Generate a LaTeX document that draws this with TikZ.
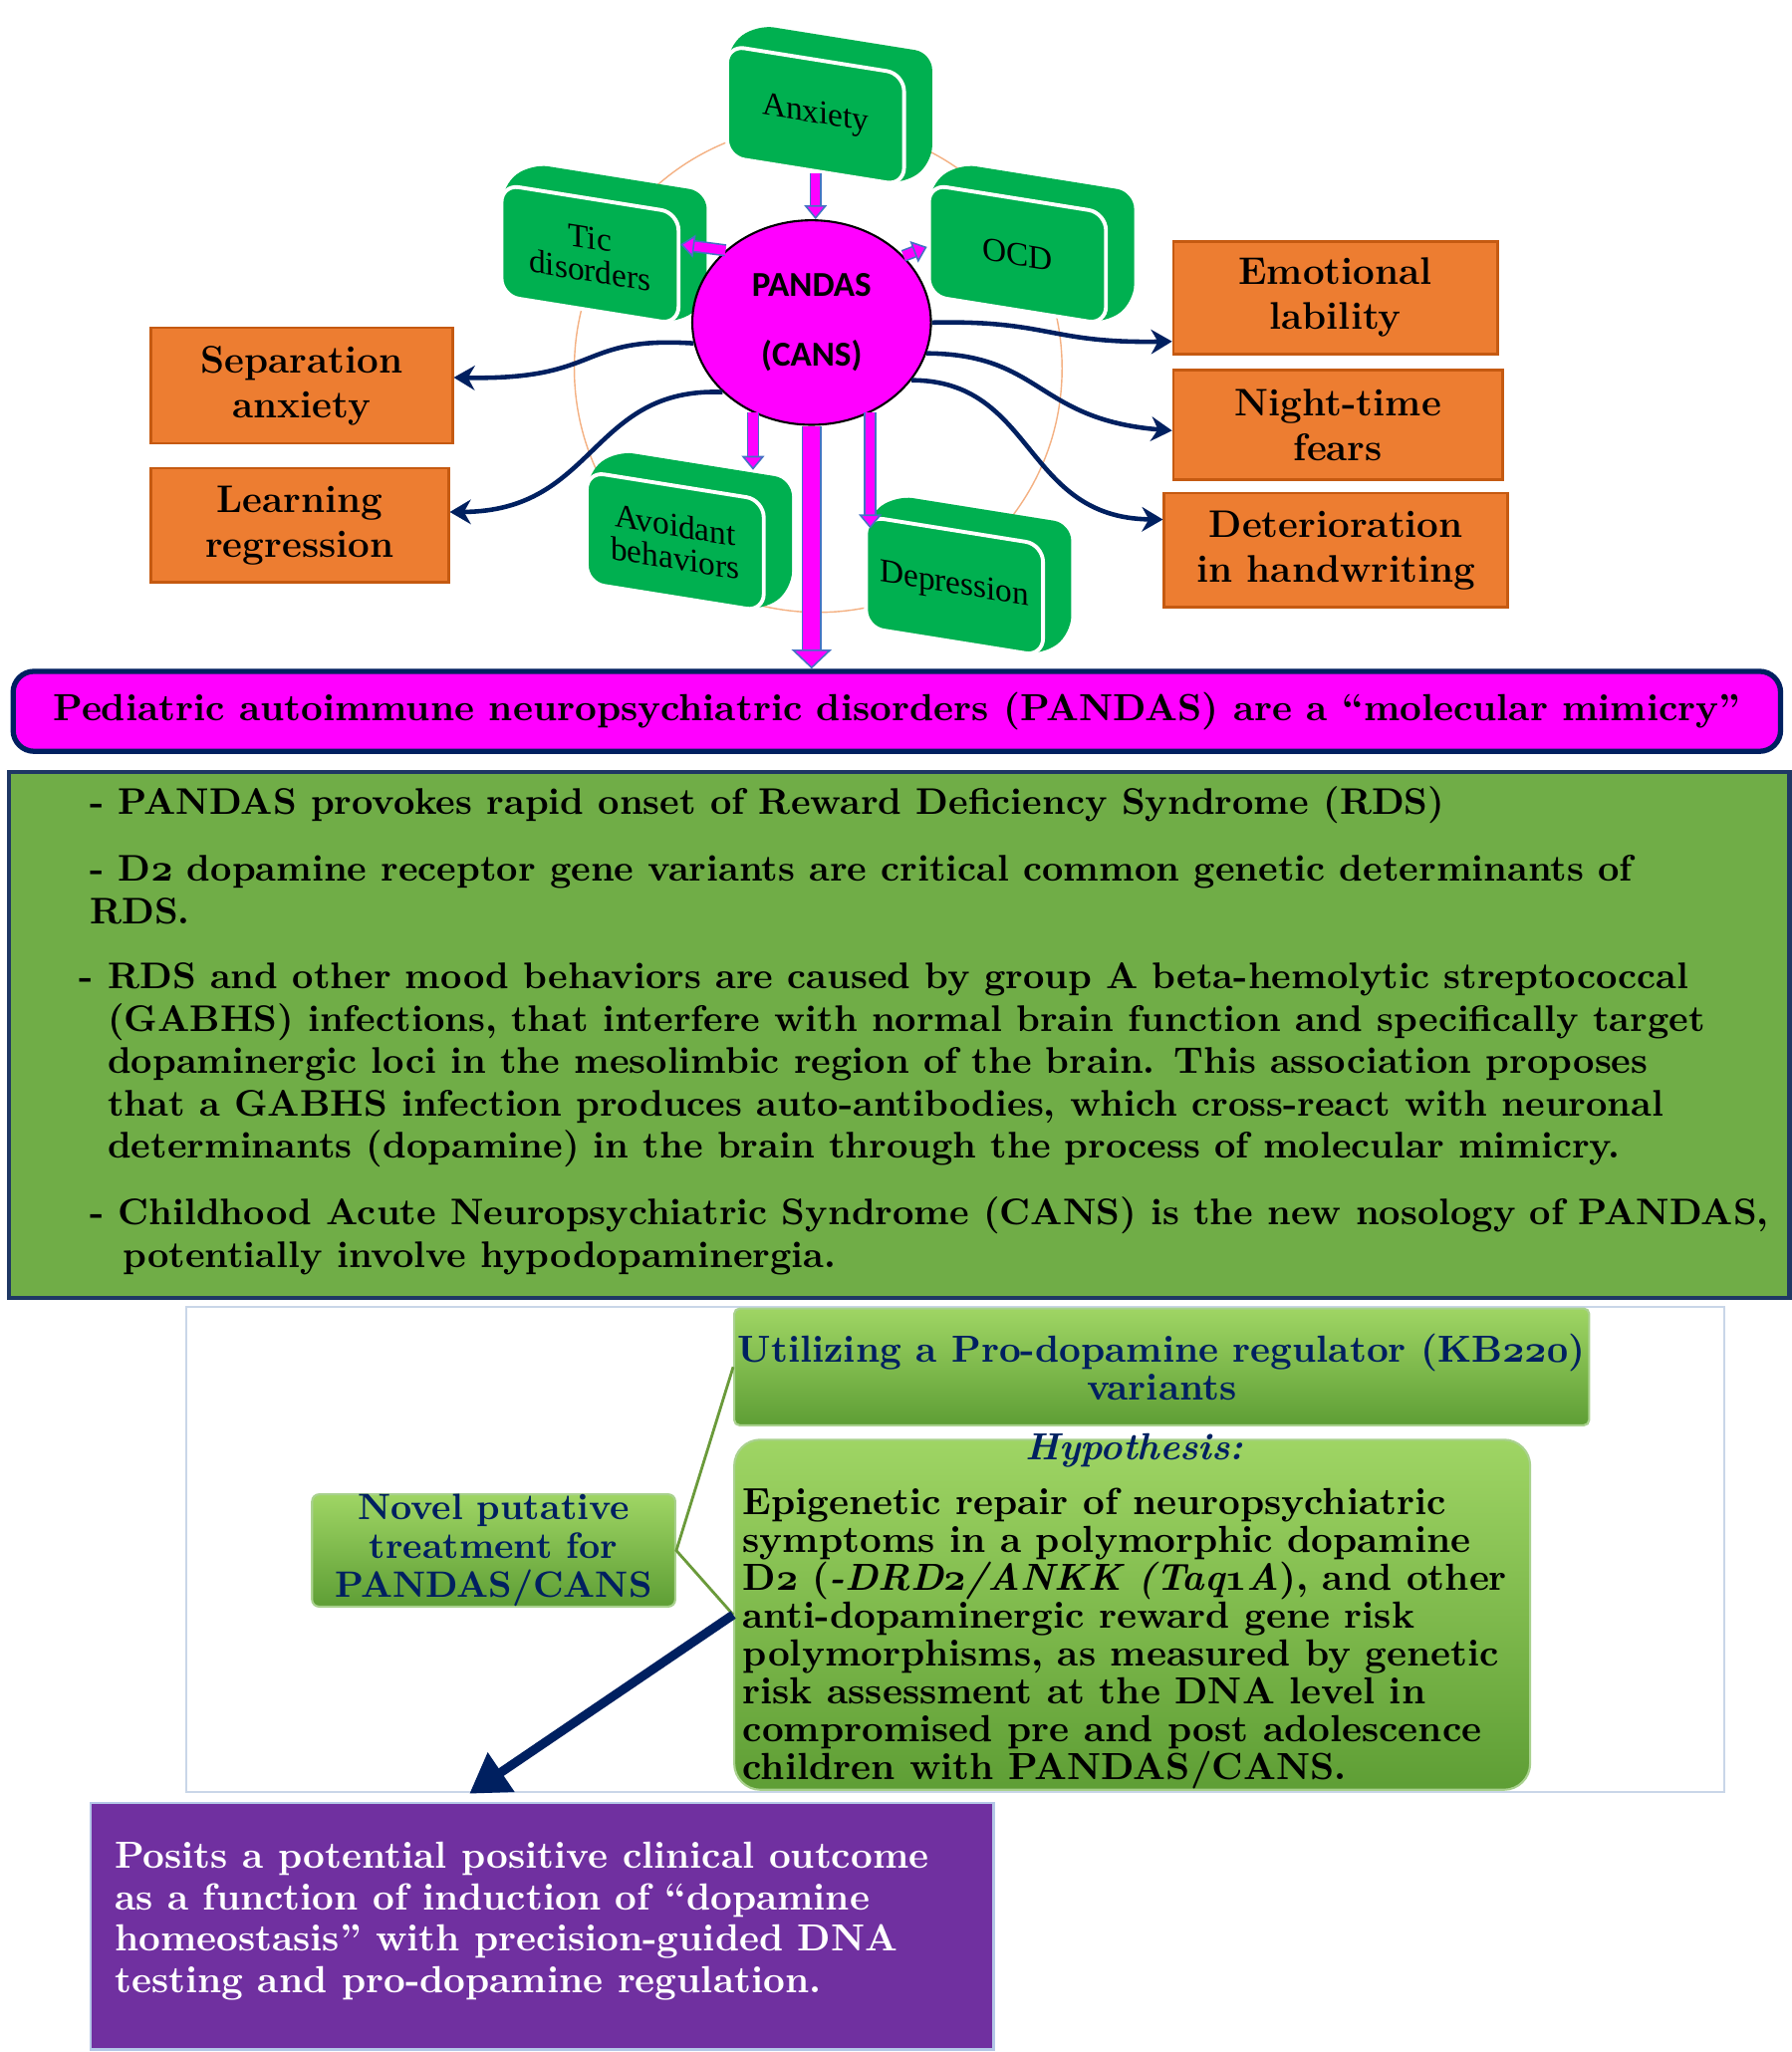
\documentclass[tikz,border=0pt]{standalone}
\usepackage{fontspec}
\newfontfamily\tilefont{Liberation Serif}
\newfontfamily\badgefont{Carlito}
\usetikzlibrary{arrows.meta,shapes.geometric}

\definecolor{tilegreen}{HTML}{00B050}
\definecolor{symorange}{HTML}{ED7D31}
\definecolor{symedge}{HTML}{C55A11}
\definecolor{pandapink}{HTML}{FF00FF}
\definecolor{darknavy}{HTML}{002060}
\definecolor{boxnavy}{HTML}{1F3864}
\definecolor{factgreen}{HTML}{70AD47}
\definecolor{gradtop}{HTML}{9FD564}
\definecolor{gradbot}{HTML}{5E9E35}
\definecolor{gradedge}{HTML}{A9D18E}
\definecolor{linkgreen}{HTML}{6A9A3A}
\definecolor{outpurple}{HTML}{7030A0}
\definecolor{outedge}{HTML}{B4C7E7}
\definecolor{framegrey}{HTML}{C9D6E8}
\definecolor{pinkedge}{HTML}{4472C4}
\definecolor{ringpeach}{HTML}{F4B183}

\newcommand{\pxu}{0.013177cm}
\newcommand{\osf}[1]{{\fontencoding{OML}\fontfamily{cmm}\fontseries{b}\fontshape{it}\selectfont #1}}

\tikzset{
  symbox/.style={draw=symedge, line width=0.8pt, fill=symorange, align=center,
    inner sep=0pt, font=\fontsize{11}{12.8}\selectfont\bfseries},
  tileface/.style={fill=tilegreen, draw=white, line width=1.1pt, rounded corners=5pt,
    align=center, inner sep=0pt, minimum width=135*\pxu, minimum height=85*\pxu,
    font=\tilefont\fontsize{9.5}{9.4}\selectfont},
  pinkarrow/.style={draw=pinkedge, line width=0.45pt, double=pandapink,
    double distance=2.6pt, -{Triangle[width=6.5pt, length=4pt, fill=pandapink]}},
  bigpinkarrow/.style={draw=pinkedge, line width=0.45pt, double=pandapink,
    double distance=4.8pt, -{Triangle[width=11.5pt, length=5.5pt, fill=pandapink]}},
  navyarrow/.style={darknavy, line width=1.3pt, -{Stealth[length=6pt, width=7pt]}},
  facttext/.style={anchor=north west, inner sep=0pt, align=left,
    font=\fontsize{10.6}{12.1}\selectfont\bfseries},
  gradbox/.style={top color=gradtop, bottom color=gradbot, draw=gradedge,
    line width=0.6pt, inner sep=0pt}
}

% slanted green slab with its face node
\newcommand{\symptomtile}[4]{%
  \fill[tilegreen, rounded corners=5pt, shift={(#2,#3)}, yslant=-0.16]
    (-67,42) -- (-67,-42) -- (-45,-62) -- (89,-62) -- (89,22) -- (67,42) -- cycle;
  \node[tileface, yslant=-0.16] (#1) at (#2,#3) {#4};
}

\begin{document}
\begin{tikzpicture}[x=\pxu, y=-\pxu]
  \useasboundingbox (0,0) rectangle (1366,1565);
  \fill[white] (0,0) rectangle (1366,1565);

  % top: symptoms round PANDAS
  \draw[ringpeach, line width=0.4pt] (624,281) circle[radius=186];
  \symptomtile{anx}{622}{88}{Anxiety}
  \symptomtile{tic}{450}{194}{Tic\\disorders}
  \symptomtile{ocd}{776}{194}{OCD}
  \symptomtile{avd}{515}{413}{Avoidant\\behaviors}
  \symptomtile{dep}{728}{447}{Depression}
  \node[ellipse, fill=pandapink, draw=black, line width=0.6pt, minimum width=182*\pxu,
    minimum height=156*\pxu, inner sep=0pt, align=center,
    font=\badgefont\bfseries\fontsize{10}{20}\selectfont] (pandas) at (619,246)
    {PANDAS\\(CANS)};

  \node[symbox, minimum width=230*\pxu, minimum height=88*\pxu] (sep) at (230,294)
    {Separation\\anxiety};
  \node[symbox, minimum width=227*\pxu, minimum height=87*\pxu] (learn) at (228.5,400.5)
    {Learning\\regression};
  \node[symbox, minimum width=247*\pxu, minimum height=86*\pxu] (emo) at (1018.5,227)
    {Emotional\\lability};
  \node[symbox, minimum width=251*\pxu, minimum height=84*\pxu] (night) at (1020.5,324)
    {Night-time\\fears};
  \node[symbox, minimum width=262*\pxu, minimum height=87*\pxu] (deter) at (1019,419.5)
    {Deterioration\\in handwriting};

  \node[fill=pandapink, draw=darknavy, line width=1.5pt, rounded corners=6pt,
    minimum width=1348*\pxu, minimum height=61*\pxu, inner sep=0pt,
    font=\fontsize{10.8}{12}\selectfont\bfseries] (title) at (684,542.5)
    {Pediatric autoimmune neuropsychiatric disorders (PANDAS) are a “molecular mimicry”};

  \coordinate (avdtop) at ([yshift=4pt]avd.north);
  \draw[pinkarrow] (anx.south) -- (anx.south |- pandas.north);
  \draw[pinkarrow] (pandas.140) -- ([yshift=7pt]tic.east);
  \draw[pinkarrow] (pandas.36) -- ([yshift=-2pt]ocd.west);
  \draw[pinkarrow] (pandas.-123) -- (pandas.-123 |- avdtop);
  \draw[pinkarrow] (pandas.-57) -- (pandas.-57 |- dep.north);
  \draw[bigpinkarrow] (pandas.south) -- (pandas.south |- title.north);

  \draw[navyarrow] (pandas.190) .. controls (440,256) and (460,290) .. (sep.3);
  \draw[navyarrow] (pandas.218) .. controls (450,295) and (455,390) .. (learn.5);
  \draw[navyarrow] (pandas.0) .. controls (800,244) and (800,262) .. (emo.195);
  \draw[navyarrow] (pandas.-15) .. controls (795,270) and (790,320) .. (night.182);
  \draw[navyarrow] (pandas.-30) .. controls (790,290) and (780,395) .. (deter.170);

  % middle: the facts
  \node[fill=factgreen, draw=boxnavy, line width=1.3pt, minimum width=1358*\pxu,
    minimum height=401*\pxu, anchor=north west, inner sep=0pt] (facts) at (5,587) {};
  \node[facttext] (f1) at (68,598)
    {\strut- PANDAS provokes rapid onset of Reward Deficiency Syndrome (RDS)};
  \node[facttext] (f2) at (68,649)
    {\strut- D\osf{2} dopamine receptor gene variants are critical common genetic determinants of\\RDS.};
  \node[facttext] (f3) at (60,731)
    {\strut- RDS and other mood behaviors are caused by group A beta-hemolytic streptococcal\\
     \hphantom{- }(GABHS) infections, that interfere with normal brain function and specifically target\\
     \hphantom{- }dopaminergic loci in the mesolimbic region of the brain. This association proposes\\
     \hphantom{- }that a GABHS infection produces auto-antibodies, which cross-react with neuronal\\
     \hphantom{- }determinants (dopamine) in the brain through the process of molecular mimicry.};
  \node[facttext] (f4) at (68,911)
    {\strut- Childhood Acute Neuropsychiatric Syndrome (CANS) is the new nosology of PANDAS,\\
     \hspace*{9.4pt}potentially involve hypodopaminergia.};

  % bottom: the treatment
  \draw[framegrey, line width=0.6pt] (142,997) rectangle (1315,1367);
  \node[gradbox, rounded corners=1.5pt, minimum width=652*\pxu, minimum height=89*\pxu,
    align=center, text=darknavy, font=\fontsize{10.8}{11}\selectfont\bfseries]
    (util) at (886,1042.5) {Utilizing a Pro-dopamine regulator (KB\osf{220})\\variants};
  \node[gradbox, rounded corners=7.5pt, minimum width=607*\pxu, minimum height=267*\pxu]
    (hypo) at (863.5,1231.5) {};
  \node[anchor=base, inner sep=0pt, text=darknavy,
    font=\fontsize{10.8}{12}\selectfont\bfseries\itshape] (hyptitle) at (865,1113) {Hypothesis:};
  \node[anchor=north west, inner sep=0pt, align=left,
    font=\fontsize{10.8}{10.83}\selectfont\bfseries] (hyptext) at (566,1134)
    {\strut Epigenetic repair of neuropsychiatric\\symptoms in a polymorphic dopamine\\
     D\osf{2} (\textit{-DRD\osf{2}/ANKK (Taq\osf{1}A}), and other\\anti-dopaminergic reward gene risk\\
     polymorphisms, as measured by genetic\\risk assessment at the DNA level in\\
     compromised pre and post adolescence\\children with PANDAS/CANS.};
  \node[gradbox, rounded corners=2pt, minimum width=277*\pxu, minimum height=85*\pxu,
    align=center, text=darknavy, font=\fontsize{10.5}{11.1}\selectfont\bfseries]
    (novel) at (376.5,1182.5) {Novel putative\\treatment for\\PANDAS/CANS};
  \draw[linkgreen, line width=0.8pt] (util.west) -- (novel.east) -- (hypo.west);

  \node[fill=outpurple, draw=outedge, line width=0.8pt, minimum width=689*\pxu,
    minimum height=188*\pxu, anchor=north west, inner sep=0pt] (posits) at (68,1374) {};
  \node[anchor=north west, inner sep=0pt, align=left, text=white,
    font=\fontsize{10.8}{11.9}\selectfont\bfseries] (positstext) at (87,1402)
    {\strut Posits a potential positive clinical outcome\\as a function of induction of “dopamine\\
     homeostasis” with precision-guided DNA\\testing and pro-dopamine regulation.};
  \coordinate (postip) at (358,1368);
  \draw[darknavy, line width=2.6pt, -{Triangle[length=11pt, width=13pt]}] (hypo.west) -- (postip);
\end{tikzpicture}
\end{document}
